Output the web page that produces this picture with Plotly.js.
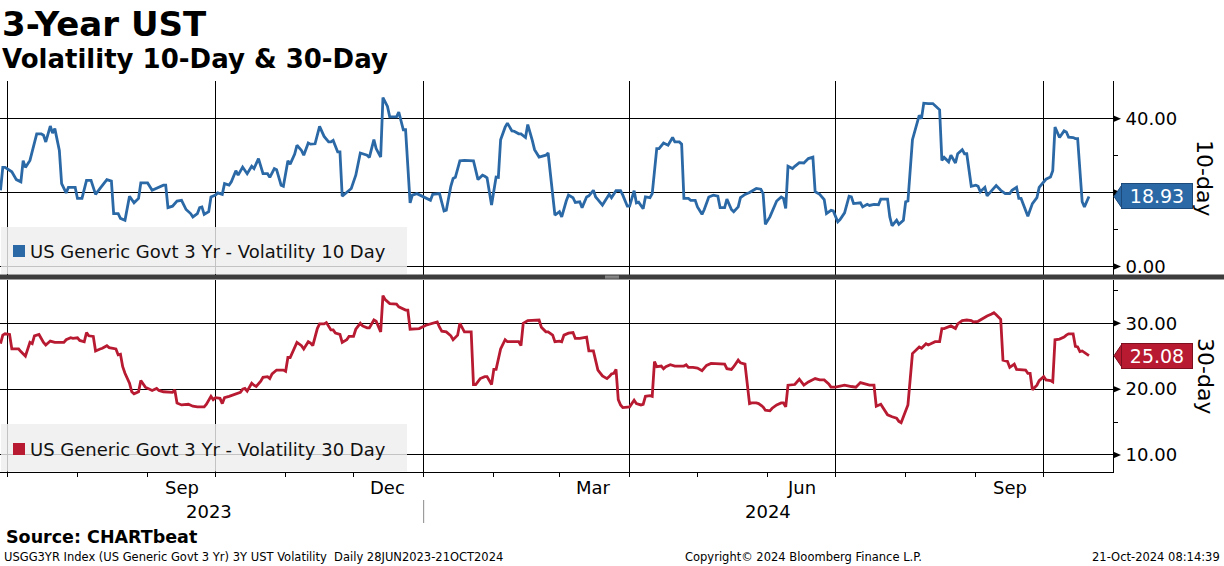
<!DOCTYPE html>
<html>
<head>
<meta charset="utf-8">
<script src="https://cdn.plot.ly/plotly-3.0.1.min.js"></script>
<style>
  html, body { margin: 0; padding: 0; background: #ffffff; }
  #chart { width: 1224px; height: 566px; }
</style>
</head>
<body>
<div id="chart"></div>
<script>
// ---------------- DATA ----------------
const dates10 = [
'2023-06-28','2023-06-29','2023-06-30','2023-07-03','2023-07-05','2023-07-07','2023-07-08','2023-07-09','2023-07-11','2023-07-12',
'2023-07-14','2023-07-16','2023-07-17','2023-07-18','2023-07-20','2023-07-21','2023-07-22','2023-07-24','2023-07-25','2023-07-27',
'2023-07-28','2023-07-31','2023-08-01','2023-08-03','2023-08-05','2023-08-07','2023-08-09','2023-08-11','2023-08-14','2023-08-16',
'2023-08-17','2023-08-19','2023-08-20','2023-08-22','2023-08-24','2023-08-26','2023-08-28','2023-08-29','2023-09-01','2023-09-03',
'2023-09-06','2023-09-08','2023-09-09','2023-09-10','2023-09-12','2023-09-14','2023-09-16','2023-09-18','2023-09-20','2023-09-21',
'2023-09-23','2023-09-24','2023-09-25','2023-09-26','2023-09-28','2023-09-29','2023-10-01','2023-10-02','2023-10-04','2023-10-05',
'2023-10-07','2023-10-08','2023-10-10','2023-10-11','2023-10-13','2023-10-15','2023-10-17','2023-10-18','2023-10-20','2023-10-22',
'2023-10-24','2023-10-25','2023-10-27','2023-10-28','2023-10-30','2023-10-31','2023-11-02','2023-11-03','2023-11-05','2023-11-06',
'2023-11-08','2023-11-09','2023-11-11','2023-11-12','2023-11-14','2023-11-16','2023-11-18','2023-11-20','2023-11-21','2023-11-22',
'2023-11-24','2023-11-25','2023-11-26','2023-11-29','2023-11-30','2023-12-02','2023-12-04','2023-12-07','2023-12-08','2023-12-10',
'2023-12-11','2023-12-13','2023-12-14','2023-12-16','2023-12-17','2023-12-20','2023-12-21','2023-12-23','2023-12-24','2023-12-26',
'2023-12-27','2023-12-29',
'2024-01-03','2024-01-04','2024-01-05','2024-01-07','2024-01-08','2024-01-10','2024-01-11','2024-01-13','2024-01-14','2024-01-15',
'2024-01-17','2024-01-19','2024-01-21','2024-01-23','2024-01-25','2024-01-27','2024-01-28','2024-01-29','2024-01-31','2024-02-02',
'2024-02-03','2024-02-04','2024-02-06','2024-02-07','2024-02-09','2024-02-10','2024-02-12','2024-02-13','2024-02-15','2024-02-16',
'2024-02-18','2024-02-19','2024-02-21','2024-02-24','2024-02-25','2024-02-27','2024-02-28','2024-03-01','2024-03-02','2024-03-04',
'2024-03-05','2024-03-07','2024-03-08','2024-03-10','2024-03-11','2024-03-13','2024-03-14','2024-03-16','2024-03-17','2024-03-18',
'2024-03-20','2024-03-23','2024-03-24','2024-03-26','2024-03-28','2024-03-29','2024-03-31','2024-04-01','2024-04-03','2024-04-04',
'2024-04-05','2024-04-07','2024-04-08','2024-04-10','2024-04-11','2024-04-13','2024-04-14','2024-04-16','2024-04-18','2024-04-20',
'2024-04-21','2024-04-23','2024-04-24','2024-04-25','2024-04-27','2024-04-28','2024-04-30','2024-05-01','2024-05-03','2024-05-04',
'2024-05-06','2024-05-08','2024-05-10','2024-05-11','2024-05-13','2024-05-14','2024-05-16','2024-05-17','2024-05-19','2024-05-20',
'2024-05-22','2024-05-24','2024-05-27','2024-05-29','2024-05-30','2024-05-31','2024-06-02','2024-06-05','2024-06-07','2024-06-08',
'2024-06-09','2024-06-10','2024-06-12','2024-06-13','2024-06-15','2024-06-17','2024-06-19','2024-06-21','2024-06-22','2024-06-24',
'2024-06-26','2024-06-27','2024-06-29','2024-06-30','2024-07-02','2024-07-03','2024-07-05','2024-07-07','2024-07-08','2024-07-09',
'2024-07-11','2024-07-12','2024-07-13','2024-07-15','2024-07-16','2024-07-18','2024-07-20','2024-07-21','2024-07-24','2024-07-25',
'2024-07-26','2024-07-28','2024-07-29','2024-07-31','2024-08-01','2024-08-02','2024-08-04','2024-08-05','2024-08-07','2024-08-08',
'2024-08-09','2024-08-11','2024-08-13','2024-08-16','2024-08-17','2024-08-18','2024-08-20','2024-08-21','2024-08-23','2024-08-24',
'2024-08-26','2024-08-27','2024-08-28','2024-08-30','2024-09-01','2024-09-02','2024-09-03','2024-09-05','2024-09-06','2024-09-08',
'2024-09-10','2024-09-12','2024-09-14','2024-09-16','2024-09-17','2024-09-19','2024-09-20','2024-09-21','2024-09-24','2024-09-26',
'2024-09-28','2024-09-29','2024-10-01','2024-10-02','2024-10-04','2024-10-05','2024-10-06','2024-10-08','2024-10-10','2024-10-11',
'2024-10-12','2024-10-14','2024-10-15','2024-10-16','2024-10-18','2024-10-19','2024-10-21'
];
const vol10 = [
20.6,26.8,26.8,25.6,23.5,22.9,28.6,26.8,28.7,31.0,
35.9,35.9,35.5,33.7,38.0,36.1,37.3,31.4,22.4,19.9,
21.4,21.4,18.4,18.4,23.3,23.3,19.5,21.1,23.5,23.1,
14.3,14.3,13.0,12.5,19.0,17.2,18.4,22.6,22.6,20.6,
21.4,22.0,22.0,15.9,16.3,17.7,17.9,15.4,14.3,13.4,
14.3,15.9,16.1,14.1,14.8,18.8,19.3,19.9,19.5,22.4,
22.0,22.9,25.9,24.7,26.9,25.1,27.1,26.5,29.2,25.1,
25.1,24.1,26.5,26.2,22.0,21.7,28.6,27.7,30.4,32.8,
31.4,30.1,33.4,33.1,33.2,37.9,35.2,33.7,33.7,34.1,
31.0,31.0,19.0,20.6,21.1,24.7,30.7,30.1,29.5,34.3,
31.9,29.6,45.7,43.3,40.5,40.5,41.8,37.0,37.0,17.2,
19.3,19.7,
18.3,17.9,19.5,19.5,19.7,15.0,15.2,21.7,23.8,24.1,
28.6,28.7,28.7,28.6,23.5,24.7,24.4,24.0,16.6,24.2,
24.1,34.3,37.7,38.8,36.7,36.6,35.9,35.9,34.9,38.4,
34.1,31.6,29.6,30.1,30.7,18.1,13.9,14.8,13.4,17.7,
19.3,18.6,17.3,17.5,15.9,18.8,19.1,20.6,18.8,18.1,
16.6,19.5,18.6,20.5,20.5,19.3,16.3,16.3,20.5,17.2,
17.4,15.6,18.8,18.6,19.7,31.9,31.9,33.4,32.8,34.9,
33.7,33.7,33.1,18.4,18.4,17.9,17.9,16.1,14.1,15.4,
18.8,19.3,19.0,15.9,15.9,18.2,15.4,14.8,16.1,18.6,
19.5,20.0,21.1,20.9,19.7,11.4,13.4,17.7,18.8,18.4,
15.7,27.1,26.5,27.1,28.1,28.0,29.2,29.6,20.2,19.5,
18.1,14.3,15.2,15.0,12.1,12.7,14.5,19.0,18.8,17.0,
17.2,17.2,16.1,16.8,16.5,16.8,16.7,18.2,18.2,13.4,
11.0,12.5,11.4,12.5,17.5,17.7,34.3,36.4,40.9,40.0,
44.2,44.1,44.1,42.4,28.7,29.5,28.3,30.1,28.0,30.5,
31.6,30.5,30.5,21.7,22.0,21.7,20.2,21.4,19.1,20.5,
21.9,20.6,19.7,19.7,20.6,21.4,18.4,18.4,13.6,17.0,
18.6,21.4,22.9,23.6,24.2,25.9,37.7,34.9,36.7,36.4,
35.0,34.9,34.6,34.6,17.5,16.1,18.93
];

const dates30 = [
'2023-06-28','2023-06-29','2023-06-30','2023-07-02','2023-07-03','2023-07-06','2023-07-07','2023-07-09','2023-07-11','2023-07-12',
'2023-07-13','2023-07-15','2023-07-17','2023-07-18','2023-07-20','2023-07-22','2023-07-24','2023-07-26','2023-07-27','2023-07-29',
'2023-07-30','2023-08-01','2023-08-02','2023-08-04','2023-08-05','2023-08-06','2023-08-08','2023-08-09','2023-08-11','2023-08-12',
'2023-08-14','2023-08-15','2023-08-18','2023-08-19','2023-08-20','2023-08-21','2023-08-22','2023-08-24','2023-08-25','2023-08-26',
'2023-08-28','2023-08-29','2023-08-31','2023-09-01','2023-09-03','2023-09-05','2023-09-06','2023-09-08','2023-09-09','2023-09-12',
'2023-09-13','2023-09-14','2023-09-16','2023-09-18','2023-09-19','2023-09-21','2023-09-23','2023-09-26','2023-09-27','2023-09-29',
'2023-09-30','2023-10-01','2023-10-03','2023-10-04','2023-10-05','2023-10-07','2023-10-09','2023-10-11','2023-10-12','2023-10-13',
'2023-10-14','2023-10-15','2023-10-17','2023-10-18','2023-10-19','2023-10-21','2023-10-22','2023-10-24','2023-10-25','2023-10-26',
'2023-10-28','2023-10-29','2023-10-31','2023-11-01','2023-11-02','2023-11-03','2023-11-04','2023-11-06','2023-11-08','2023-11-09',
'2023-11-11','2023-11-12','2023-11-13','2023-11-15','2023-11-16','2023-11-18','2023-11-19','2023-11-21','2023-11-22','2023-11-23',
'2023-11-25','2023-11-26','2023-11-28','2023-11-29','2023-12-01','2023-12-02','2023-12-04','2023-12-05','2023-12-07','2023-12-08',
'2023-12-10','2023-12-11','2023-12-13','2023-12-14','2023-12-15','2023-12-17','2023-12-20','2023-12-21','2023-12-24','2023-12-25',
'2023-12-26','2023-12-28','2023-12-30',
'2024-01-02','2024-01-04','2024-01-05','2024-01-07','2024-01-08','2024-01-09','2024-01-11','2024-01-13','2024-01-14','2024-01-16',
'2024-01-17','2024-01-19','2024-01-22','2024-01-23','2024-01-24','2024-01-26','2024-01-28','2024-01-29','2024-01-31','2024-02-01',
'2024-02-02','2024-02-04','2024-02-06','2024-02-07','2024-02-09','2024-02-12','2024-02-13','2024-02-14','2024-02-16','2024-02-19',
'2024-02-21','2024-02-22','2024-02-24','2024-02-25','2024-02-27','2024-02-28','2024-03-01','2024-03-02','2024-03-03','2024-03-05',
'2024-03-07','2024-03-08','2024-03-10','2024-03-13','2024-03-14','2024-03-16','2024-03-17','2024-03-18','2024-03-20','2024-03-22',
'2024-03-23','2024-03-24','2024-03-25','2024-03-26','2024-03-27','2024-03-28','2024-03-29','2024-03-31','2024-04-01','2024-04-03',
'2024-04-04','2024-04-06','2024-04-07','2024-04-08','2024-04-10','2024-04-11','2024-04-12','2024-04-13','2024-04-15','2024-04-16',
'2024-04-17','2024-04-19','2024-04-21','2024-04-23','2024-04-25','2024-04-26','2024-04-27','2024-04-29','2024-05-01','2024-05-03',
'2024-05-04','2024-05-05','2024-05-07','2024-05-10','2024-05-12','2024-05-13','2024-05-14','2024-05-16','2024-05-17','2024-05-19',
'2024-05-20','2024-05-22','2024-05-24','2024-05-25','2024-05-27','2024-05-28','2024-05-30','2024-05-31','2024-06-02','2024-06-03',
'2024-06-05','2024-06-07','2024-06-08','2024-06-09','2024-06-10','2024-06-12','2024-06-13','2024-06-15','2024-06-16','2024-06-17',
'2024-06-19','2024-06-21','2024-06-22','2024-06-24','2024-06-26','2024-06-28','2024-06-29','2024-07-01','2024-07-03','2024-07-05',
'2024-07-08','2024-07-10','2024-07-12','2024-07-14','2024-07-16','2024-07-18','2024-07-19','2024-07-21','2024-07-22','2024-07-24',
'2024-07-26','2024-07-28','2024-07-29','2024-07-30','2024-07-31','2024-08-02','2024-08-04','2024-08-05','2024-08-07','2024-08-08',
'2024-08-10','2024-08-11','2024-08-13','2024-08-14','2024-08-16','2024-08-17','2024-08-18','2024-08-21','2024-08-23','2024-08-24',
'2024-08-26','2024-08-28','2024-08-30','2024-08-31','2024-09-02','2024-09-03','2024-09-05','2024-09-06','2024-09-08','2024-09-09',
'2024-09-10','2024-09-12','2024-09-13','2024-09-15','2024-09-16','2024-09-18','2024-09-19','2024-09-21','2024-09-23','2024-09-24',
'2024-09-25','2024-09-26','2024-09-28','2024-09-29','2024-10-01','2024-10-02','2024-10-04','2024-10-05','2024-10-06','2024-10-08',
'2024-10-10','2024-10-11','2024-10-12','2024-10-14','2024-10-15','2024-10-16','2024-10-17','2024-10-18','2024-10-21'
];
const vol30 = [
26.9,28.2,28.4,28.3,26.1,26.1,25.7,25.0,27.1,26.9,
28.1,28.3,27.1,26.7,27.3,27.1,27.1,27.1,27.5,27.8,
27.7,27.8,27.4,27.2,28.6,28.1,28.0,25.8,26.1,26.2,
26.6,26.3,26.1,25.2,25.3,23.4,22.4,20.9,19.6,19.3,
19.6,21.3,20.3,20.1,19.8,20.1,19.8,19.6,19.6,19.5,
19.9,17.9,17.6,17.7,17.7,17.4,17.3,17.3,17.7,18.9,
18.4,18.7,18.6,17.8,18.7,18.9,19.1,19.3,19.5,20.0,
20.1,19.7,20.9,20.6,20.4,21.2,21.8,21.9,21.6,22.3,
22.9,22.9,22.9,22.7,24.8,24.8,25.5,27.1,26.6,26.1,
27.2,27.0,26.6,29.2,29.9,29.9,30.1,29.0,29.0,28.5,
28.3,27.1,27.5,28.0,28.0,29.1,30.0,29.6,29.3,29.3,
30.5,30.3,28.7,34.2,33.6,33.0,32.9,32.5,32.0,32.0,
29.1,29.1,29.2,
29.7,29.9,30.1,30.2,29.4,28.8,28.7,28.1,27.5,28.2,
30.0,28.7,28.7,20.7,20.7,21.6,21.9,21.9,20.7,23.0,
23.0,26.1,27.5,27.2,27.2,27.2,26.6,30.0,30.4,30.5,
30.5,29.4,28.7,28.7,28.2,27.2,27.3,27.2,28.2,28.5,
28.6,27.7,27.7,27.9,25.8,25.8,24.5,22.9,22.0,21.6,
21.9,22.3,22.4,23.0,18.4,17.6,17.2,17.2,17.3,18.3,
17.8,17.6,17.7,18.9,19.0,18.9,24.2,23.4,23.5,23.1,
23.4,23.7,23.5,23.5,23.5,23.7,23.3,23.3,23.2,22.8,
23.3,23.6,23.9,23.9,23.8,23.8,23.1,23.0,23.4,24.4,
24.0,23.8,17.8,17.9,17.9,17.8,17.3,16.8,16.7,17.1,
17.6,17.9,17.9,17.3,20.6,20.7,20.7,21.5,21.1,20.6,
21.1,21.5,21.6,21.4,21.4,20.8,20.3,20.3,20.4,20.6,
20.4,20.3,21.0,20.8,20.6,20.6,17.4,17.7,17.1,16.1,
15.8,15.6,15.1,14.9,15.8,17.6,25.4,25.7,26.4,26.2,
26.9,26.7,27.1,27.2,27.2,29.2,29.2,29.6,29.2,29.9,
30.4,30.5,30.4,30.2,30.3,30.5,31.0,31.1,31.4,31.6,
31.3,30.6,24.4,24.2,23.3,23.8,23.0,23.0,22.9,22.4,
22.4,19.9,20.6,21.3,21.9,21.4,21.3,21.1,27.5,27.6,
27.9,28.2,28.4,28.4,26.5,26.4,25.7,25.8,25.08
];

const seriesNames = ['US Generic Govt 3 Yr - Volatility 10 Day', 'US Generic Govt 3 Yr - Volatility 30 Day'];
const panelTitles = ['10-day', '30-day'];
const quarterTicks = ['2023-07-01','2023-10-01','2024-01-01','2024-04-01','2024-07-01','2024-10-01'];
const monthTicks = ['2023-07-01','2023-08-01','2023-09-01','2023-10-01','2023-11-01','2023-12-01','2024-01-01','2024-02-01',
  '2024-03-01','2024-04-01','2024-05-01','2024-06-01','2024-07-01','2024-08-01','2024-09-01','2024-10-01'];
const monthLabels = ['Sep','Dec','Mar','Jun','Sep'];
const monthLabelDates = ['2023-09-16','2023-12-16','2024-03-16','2024-06-16','2024-09-16'];
const yearLabels = ['2023','2024'];
const yearLabelDates = ['2023-09-28','2024-06-01'];
const yearBreakDate = '2024-01-01';
const topTicks = [0, 20, 40];
const topTickText = ['0.00', '', '40.00'];
const topMinor = [10, 30];
const botTicks = [10, 20, 30];
const botTickText = ['10.00', '20.00', '30.00'];
const botMinor = [15, 25, 35];
const xRange = ['2023-06-27 18:30', '2024-10-31 15:00'];
const topRange = [-2.2, 50.2];
const botRange = [7.49, 36.65];

// ---------------- STYLE / LAYOUT ----------------
const W = 1224, H = 566;
const px = v => v / W;
const py = v => 1 - v / H;
const BLUE = '#2b68a6', RED = '#b71a31';
const FONT = 'DejaVu Sans';
const xEnd = px(1113);

const traces = [
  { x: dates10, y: vol10, xaxis: 'x', yaxis: 'y', type: 'scatter', mode: 'lines',
    line: { color: BLUE, width: 2.8 }, hoverinfo: 'skip', showlegend: false },
  { x: dates30, y: vol30, xaxis: 'x2', yaxis: 'y2', type: 'scatter', mode: 'lines',
    line: { color: RED, width: 2.8 }, hoverinfo: 'skip', showlegend: false }
];

const yCommon = {
  side: 'right', showline: true, linecolor: '#000', linewidth: 1,
  showgrid: true, gridcolor: '#000', gridwidth: 1, zeroline: false,
  tickmode: 'array', ticks: 'outside', ticklen: 4, tickcolor: '#000',
  tickfont: { family: FONT, size: 18, color: '#000' }, ticklabelstandoff: 4
};
const xCommon = {
  type: 'date', range: xRange, domain: [0, xEnd], tickmode: 'array', tickvals: quarterTicks,
  showgrid: true, gridcolor: '#000', gridwidth: 1, zeroline: false, showticklabels: false
};

const layout = {
  width: W, height: H, margin: { l: 0, r: 0, t: 0, b: 0 },
  paper_bgcolor: '#fff', plot_bgcolor: 'rgba(0,0,0,0)', showlegend: false,
  xaxis: Object.assign({}, xCommon, { anchor: 'y', ticks: '', showline: false }),
  xaxis2: Object.assign({}, xCommon, { anchor: 'y2', ticks: 'outside', ticklen: 4, tickcolor: '#000',
    showline: true, linecolor: '#000', linewidth: 1,
    minor: { tickmode: 'array', tickvals: monthTicks, ticks: 'outside', ticklen: 4, tickcolor: '#000', showgrid: false } }),
  yaxis: Object.assign({}, yCommon, { anchor: 'x', domain: [py(274.5), py(81)], range: topRange,
    tickvals: topTicks, ticktext: topTickText,
    minor: { tickmode: 'array', tickvals: topMinor, ticks: 'outside', ticklen: 4, tickcolor: '#000', showgrid: false } }),
  yaxis2: Object.assign({}, yCommon, { anchor: 'x2', domain: [py(471.5), py(279.5)], range: botRange,
    tickvals: botTicks, ticktext: botTickText,
    minor: { tickmode: 'array', tickvals: botMinor, ticks: 'outside', ticklen: 4, tickcolor: '#000', showgrid: false } }),
  shapes: [],
  annotations: []
};

// panel divider
layout.shapes.push({ type: 'rect', xref: 'paper', yref: 'paper', x0: 0, x1: 1, y0: py(279.5), y1: py(274.5),
  fillcolor: '#3d3d3d', line: { width: 0 }, layer: 'above' });
[276.2, 277.9].forEach(yy => layout.shapes.push({ type: 'line', xref: 'paper', yref: 'paper',
  x0: px(605), x1: px(619), y0: py(yy), y1: py(yy), line: { color: '#a8a8a8', width: 1 }, layer: 'above' }));

// triangle tick markers on the right axes
topTicks.forEach(v => layout.shapes.push({ type: 'path', xref: 'paper', yref: 'y', xsizemode: 'pixel', ysizemode: 'pixel',
  xanchor: xEnd, yanchor: v, path: 'M0,-3.5 L8,0 L0,3.5 Z', fillcolor: '#000', line: { width: 0 }, layer: 'above' }));
botTicks.forEach(v => layout.shapes.push({ type: 'path', xref: 'paper', yref: 'y2', xsizemode: 'pixel', ysizemode: 'pixel',
  xanchor: xEnd, yanchor: v, path: 'M0,-3.5 L8,0 L0,3.5 Z', fillcolor: '#000', line: { width: 0 }, layer: 'above' }));

// legend boxes
const legendBoxes = [
  { y0: 274, y1: 227, cy: 251, color: BLUE, name: seriesNames[0] },
  { y0: 471.5, y1: 424, cy: 449, color: RED, name: seriesNames[1] }
];
legendBoxes.forEach(b => {
  layout.shapes.push({ type: 'rect', xref: 'paper', yref: 'paper', x0: px(1), x1: px(407), y0: py(b.y0), y1: py(b.y1),
    fillcolor: 'rgba(238,238,238,0.82)', line: { width: 0 }, layer: 'above' });
  layout.shapes.push({ type: 'rect', xref: 'paper', yref: 'paper', x0: px(13), x1: px(25), y0: py(b.cy + 6), y1: py(b.cy - 6),
    fillcolor: b.color, line: { width: 0 }, layer: 'above' });
  layout.annotations.push({ xref: 'paper', yref: 'paper', x: px(28), y: py(b.cy), xanchor: 'left', yanchor: 'middle',
    text: b.name, showarrow: false, font: { family: FONT, size: 18, color: '#111' } });
});

// last-value boxes
const lastBoxes = [
  { yref: 'y', v: vol10[vol10.length - 1], color: BLUE, border: '#1c4a7a' },
  { yref: 'y2', v: vol30[vol30.length - 1], color: RED, border: '#7d0f1f' }
];
lastBoxes.forEach(b => {
  layout.shapes.push({ type: 'path', xref: 'paper', yref: b.yref, xsizemode: 'pixel', ysizemode: 'pixel',
    xanchor: xEnd, yanchor: b.v, path: 'M1,0 L9.5,-12.5 L9.5,12.5 Z', fillcolor: b.color,
    line: { color: b.border, width: 1 }, layer: 'above' });
  layout.annotations.push({ xref: 'paper', yref: b.yref, x: px(1121), y: b.v, xanchor: 'left', yanchor: 'middle',
    text: b.v.toFixed(2), showarrow: false, bgcolor: b.color, bordercolor: b.border, borderwidth: 1, borderpad: 0,
    width: 70, height: 24, align: 'center', font: { family: FONT, size: 19, color: '#fff' } });
});

// panel side titles
[[panelTitles[0], 178], [panelTitles[1], 376]].forEach(([t, cy]) => layout.annotations.push({
  xref: 'paper', yref: 'paper', x: px(1205), y: py(cy), xanchor: 'center', yanchor: 'middle', textangle: 90,
  text: t, showarrow: false, font: { family: FONT, size: 22, color: '#000' } }));

// month labels & years
monthLabels.forEach((m, i) => layout.annotations.push({ xref: 'x2', yref: 'paper', x: monthLabelDates[i], y: py(487),
  xanchor: 'center', yanchor: 'middle', text: m, showarrow: false, font: { family: FONT, size: 18, color: '#000' } }));
yearLabels.forEach((m, i) => layout.annotations.push({ xref: 'x2', yref: 'paper', x: yearLabelDates[i], y: py(511),
  xanchor: 'center', yanchor: 'middle', text: m, showarrow: false, font: { family: FONT, size: 18, color: '#000' } }));
layout.shapes.push({ type: 'line', xref: 'x2', yref: 'paper', x0: yearBreakDate, x1: yearBreakDate, y0: py(500), y1: py(523),
  line: { color: '#8a8a8a', width: 1 } });

// titles and footer
layout.annotations.push(
  { xref: 'paper', yref: 'paper', x: 0, y: py(24), xanchor: 'left', yanchor: 'middle', showarrow: false,
    text: '3-Year UST', font: { family: FONT, size: 34, color: '#000', weight: 'bold' } },
  { xref: 'paper', yref: 'paper', x: 0, y: py(59), xanchor: 'left', yanchor: 'middle', showarrow: false,
    text: 'Volatility 10-Day &amp; 30-Day', font: { family: FONT, size: 26, color: '#000', weight: 'bold' } },
  { xref: 'paper', yref: 'paper', x: px(4), y: py(537), xanchor: 'left', yanchor: 'middle', showarrow: false,
    text: 'Source: CHARTbeat', font: { family: FONT, size: 17.5, color: '#000', weight: 'bold' } },
  { xref: 'paper', yref: 'paper', x: px(2), y: py(557), xanchor: 'left', yanchor: 'middle', showarrow: false,
    text: 'USGG3YR Index (US Generic Govt 3 Yr) 3Y UST Volatility&nbsp; Daily 28JUN2023-21OCT2024',
    font: { family: FONT, size: 11.5, color: '#000' } },
  { xref: 'paper', yref: 'paper', x: px(803), y: py(557), xanchor: 'center', yanchor: 'middle', showarrow: false,
    text: 'Copyright© 2024 Bloomberg Finance L.P.', font: { family: FONT, size: 11.5, color: '#000' } },
  { xref: 'paper', yref: 'paper', x: px(1222), y: py(557), xanchor: 'right', yanchor: 'middle', showarrow: false,
    text: '21-Oct-2024 08:14:39', font: { family: FONT, size: 11.5, color: '#000' } }
);

Plotly.newPlot('chart', traces, layout, { displayModeBar: false, staticPlot: true });
</script>
</body>
</html>
